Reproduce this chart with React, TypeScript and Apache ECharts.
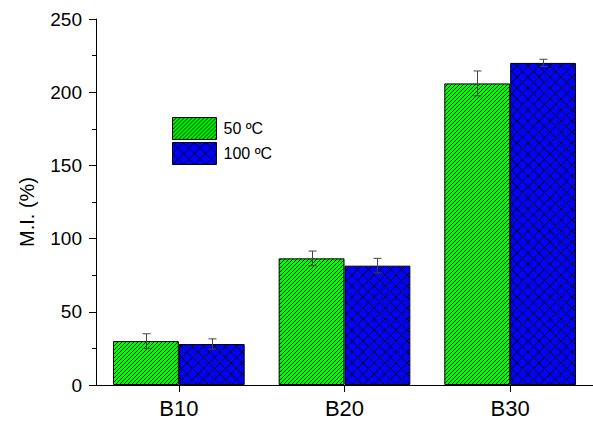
import React, { useEffect, useRef } from "react";
import * as echarts from "echarts";

// Swelling index (M.I., %) per blend, at two temperatures
const categories = ["B10", "B20", "B30"];
const seriesNames = ["50 ºC", "100 ºC"];
const mi50 = [30, 86.5, 206];
const err50 = [5, 5, 8.5];
const mi100 = [28, 81.5, 220];
const err100 = [3.5, 5, 2.5];
const yMax = 250;
const yStep = 50;

const FONT = 'Arial, "Liberation Sans", sans-serif';
const CATEGORY_GAP = 0.205;

// Pixel-exact fill tile: each pixel is ink or background
function pixelTile(size: number, bg: [number, number, number], ink: (x: number, y: number) => boolean) {
  const c = document.createElement("canvas");
  c.width = size;
  c.height = size;
  const g = c.getContext("2d")!;
  const img = g.createImageData(size, size);
  for (let y = 0; y < size; y++) {
    for (let x = 0; x < size; x++) {
      const k = (y * size + x) * 4;
      const on = ink(x, y);
      img.data[k] = on ? 0 : bg[0];
      img.data[k + 1] = on ? 0 : bg[1];
      img.data[k + 2] = on ? 0 : bg[2];
      img.data[k + 3] = 255;
    }
  }
  g.putImageData(img, 0, 0);
  return { image: c.toDataURL(), repeat: "repeat", imageWidth: size, imageHeight: size } as any;
}

export default function App() {
  const ref = useRef<HTMLDivElement>(null);

  useEffect(() => {
    if (!ref.current) return;
    const chart = echarts.init(ref.current, undefined, { renderer: "svg" });

    // "/" hatch on green, diagonal cross-hatch on blue
    const greenPattern = pixelTile(4, [0, 255, 0], (x, y) => (x + y) % 4 === 3);
    const X = 11;
    const bluePattern = pixelTile(X, [0, 0, 255], (x, y) => (x + y) % X === X - 1 || (x - y + X) % X === 0);

    const errorSeries = (name: string, vals: number[], errs: number[], side: number) => ({
      type: "custom",
      name: name + " err",
      z: 5,
      silent: true,
      data: vals.map((v, i) => [i, v, errs[i]]),
      renderItem: (_params: any, api: any) => {
        const cat = api.value(0);
        const v = api.value(1);
        const e = api.value(2);
        const band = api.size([1, 0])[0];
        const off = ((band * (1 - CATEGORY_GAP)) / 4) * side;
        const top = api.coord([cat, v + e]);
        const bot = api.coord([cat, v - e]);
        const x = Math.round(top[0] + off) + 0.5;
        const cap = 4;
        const style = { stroke: "#444", lineWidth: 1 };
        return {
          type: "group",
          children: [
            { type: "line", shape: { x1: x, y1: top[1], x2: x, y2: bot[1] }, style },
            { type: "line", shape: { x1: x - cap, y1: top[1], x2: x + cap, y2: top[1] }, style },
            { type: "line", shape: { x1: x - cap, y1: bot[1], x2: x + cap, y2: bot[1] }, style },
          ],
        };
      },
    });

    chart.setOption({
      animation: false,
      backgroundColor: "#fff",
      textStyle: { fontFamily: FONT, color: "#000" },
      grid: { left: 96, right: 0, top: 19, bottom: 36, containLabel: false },
      legend: {
        data: seriesNames,
        orient: "vertical",
        left: 172,
        top: 117,
        padding: 0,
        itemGap: 2,
        itemWidth: 44,
        itemHeight: 22,
        icon: "rect",
        itemStyle: { borderColor: "#000", borderWidth: 1 },
        textStyle: { fontFamily: FONT, fontSize: 16, color: "#000", padding: [0, 0, 0, 2] },
      },
      xAxis: {
        type: "category",
        data: categories,
        axisLine: { lineStyle: { color: "#000", width: 1 } },
        axisTick: { show: true, alignWithLabel: true, length: 7, lineStyle: { color: "#000" } },
        axisLabel: { fontFamily: FONT, fontSize: 22, color: "#000", margin: 12 },
        splitLine: { show: false },
        z: 10,
      },
      yAxis: {
        type: "value",
        min: 0,
        max: yMax,
        interval: yStep,
        axisLine: { show: true, lineStyle: { color: "#000", width: 1 } },
        axisTick: { show: true, length: 7, lineStyle: { color: "#000" } },
        minorTick: { show: true, splitNumber: 2, length: 4, lineStyle: { color: "#000" } },
        axisLabel: { fontFamily: FONT, fontSize: 19, color: "#000", margin: 14 },
        splitLine: { show: false },
      },
      graphic: [
        {
          type: "text",
          x: 27,
          y: 212,
          rotation: Math.PI / 2,
          style: {
            text: "M.I. (%)",
            font: `20px ${FONT}`,
            fill: "#000",
            align: "center",
            verticalAlign: "middle",
          },
        },
      ],
      series: [
        {
          type: "bar",
          name: seriesNames[0],
          data: mi50,
          barGap: "0%",
          barCategoryGap: CATEGORY_GAP * 100 + "%",
          itemStyle: { color: greenPattern, borderColor: "#000", borderWidth: 1 },
        },
        {
          type: "bar",
          name: seriesNames[1],
          data: mi100,
          barGap: "0%",
          barCategoryGap: CATEGORY_GAP * 100 + "%",
          itemStyle: { color: bluePattern, borderColor: "#000", borderWidth: 1 },
        },
        errorSeries(seriesNames[0], mi50, err50, -1),
        errorSeries(seriesNames[1], mi100, err100, 1),
      ],
    });

    return () => chart.dispose();
  }, []);

  return (
    <div
      ref={ref}
      style={{ position: "fixed", left: 0, top: 0, width: 593, height: 421, background: "#fff" }}
    />
  );
}
